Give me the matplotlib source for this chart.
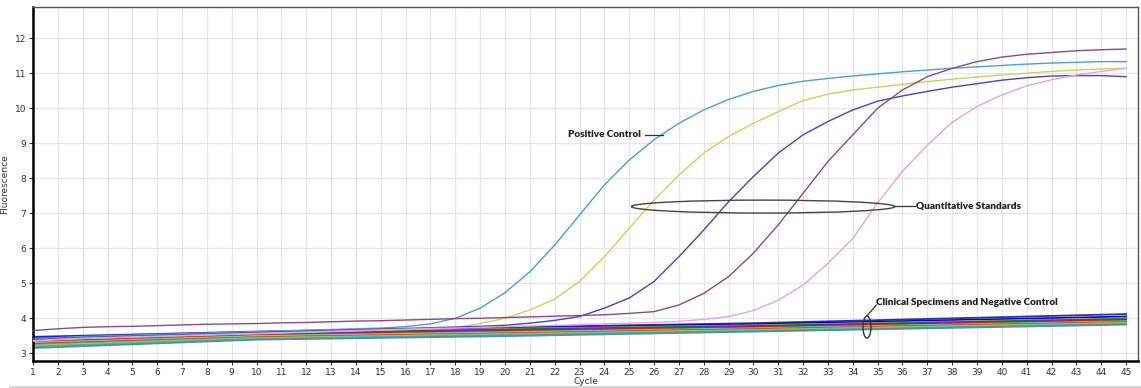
import numpy as np
import matplotlib
matplotlib.use('Agg')
import matplotlib.pyplot as plt
from matplotlib.patches import Ellipse
from matplotlib.lines import Line2D


# amplification curves (fluorescence per cycle)
cycles = np.arange(1, 46)

positive_control = [3.40, 3.45, 3.48, 3.50, 3.52, 3.54, 3.56, 3.58, 3.60, 3.62,
                    3.64, 3.66, 3.68, 3.70, 3.72, 3.76, 3.84, 4.00, 4.29, 4.73,
                    5.33, 6.09, 6.95, 7.81, 8.52, 9.10, 9.57, 9.95, 10.25, 10.48,
                    10.65, 10.77, 10.85, 10.92, 10.98, 11.04, 11.09, 11.14, 11.18, 11.22,
                    11.26, 11.29, 11.31, 11.33, 11.33]

standard_1 = [3.35, 3.39, 3.42, 3.44, 3.46, 3.48, 3.50, 3.52, 3.54, 3.56,
              3.58, 3.60, 3.62, 3.64, 3.66, 3.68, 3.70, 3.73, 3.85, 4.00,
              4.24, 4.55, 5.05, 5.76, 6.57, 7.38, 8.09, 8.72, 9.19, 9.57,
              9.90, 10.22, 10.40, 10.52, 10.60, 10.68, 10.76, 10.83, 10.89, 10.95,
              11.00, 11.05, 11.09, 11.12, 11.14]

standard_2 = [3.38, 3.42, 3.45, 3.47, 3.49, 3.51, 3.53, 3.55, 3.57, 3.59,
              3.61, 3.63, 3.65, 3.67, 3.69, 3.71, 3.73, 3.75, 3.77, 3.80,
              3.86, 3.94, 4.05, 4.29, 4.58, 5.05, 5.76, 6.52, 7.33, 8.05,
              8.72, 9.24, 9.62, 9.95, 10.20, 10.35, 10.48, 10.60, 10.70, 10.80,
              10.87, 10.92, 10.93, 10.93, 10.90]

standard_3 = [3.65, 3.70, 3.74, 3.76, 3.77, 3.79, 3.81, 3.83, 3.84, 3.85,
              3.87, 3.88, 3.90, 3.92, 3.93, 3.95, 3.97, 3.99, 4.00, 4.02,
              4.04, 4.06, 4.08, 4.10, 4.14, 4.19, 4.38, 4.71, 5.19, 5.86,
              6.67, 7.57, 8.48, 9.24, 10.00, 10.52, 10.90, 11.14, 11.33, 11.46,
              11.54, 11.59, 11.64, 11.67, 11.69]

standard_4 = [3.36, 3.40, 3.43, 3.45, 3.47, 3.49, 3.51, 3.53, 3.55, 3.57,
              3.59, 3.61, 3.63, 3.65, 3.67, 3.69, 3.71, 3.72, 3.74, 3.76,
              3.78, 3.80, 3.82, 3.84, 3.86, 3.88, 3.91, 3.97, 4.05, 4.22,
              4.52, 4.95, 5.57, 6.28, 7.30, 8.20, 8.95, 9.60, 10.05, 10.38,
              10.64, 10.81, 10.95, 11.05, 11.14]

amp_curves = [positive_control, standard_1, standard_2, standard_3, standard_4]
amp_colors = ['#4C9FD6', '#D2D05A', '#4444C4', '#8A4A8E', '#E8A2E8']

# clinical specimens + negative control, values at a few cycles
base_cycles = [1, 10, 20, 30, 45]
baselines = [
    [3.47, 3.62, 3.74, 3.86, 4.12],
    [3.44, 3.60, 3.72, 3.83, 4.05],
    [3.42, 3.58, 3.70, 3.80, 4.00],
    [3.40, 3.56, 3.68, 3.78, 3.98],
    [3.38, 3.55, 3.66, 3.76, 3.96],
    [3.36, 3.53, 3.64, 3.75, 3.95],
    [3.33, 3.51, 3.62, 3.73, 3.93],
    [3.31, 3.50, 3.61, 3.72, 3.92],
    [3.29, 3.48, 3.59, 3.70, 3.90],
    [3.27, 3.46, 3.57, 3.69, 3.89],
    [3.25, 3.45, 3.56, 3.68, 3.88],
    [3.22, 3.43, 3.54, 3.66, 3.86],
    [3.19, 3.41, 3.52, 3.64, 3.84],
    [3.15, 3.39, 3.49, 3.62, 3.82],
]
base_colors = ['#3030A0', '#0000E0', '#A0A0A0', '#008000', '#C000C0', '#804040',
               '#E00000', '#40C090', '#C0C0C0', '#8B4513', '#E07020', '#90D090',
               '#40B0C0', '#5090A0']

x_ticks = list(range(1, 46))
y_ticks = list(range(3, 13))


def main():
    fig = plt.figure(figsize=(11.41, 3.88), dpi=100)
    ax = fig.add_axes([33 / 1141, 1 - 361 / 388, 1105 / 1141, 354 / 388])

    for vals, col in zip(baselines, base_colors):
        ax.plot(base_cycles, vals, color=col, lw=1.3, zorder=2)
    for vals, col in zip(amp_curves, amp_colors):
        ax.plot(cycles, vals, color=col, lw=1.0, zorder=3)

    ax.set_xlim(1, 45.48)
    ax.set_ylim(2.78, 12.89)
    ax.set_xticks(x_ticks)
    ax.set_yticks(y_ticks)
    ax.grid(True, color='#E6E6E6', lw=0.9)
    ax.set_axisbelow(True)
    ax.tick_params(labelsize=6.5, length=3, width=0.8, pad=2, colors='#333333')

    for side in ['left', 'bottom']:
        ax.spines[side].set_linewidth(1.8)
        ax.spines[side].set_color('black')
    for side in ['top', 'right']:
        ax.spines[side].set_linewidth(1.0)
        ax.spines[side].set_color('#555555')

    ax.set_xlabel('Cycle', fontsize=6.5, labelpad=0, color='#333333')
    ax.set_ylabel('Fluorescence', fontsize=6.5, labelpad=4, color='#333333')

    fnt = dict(family=['Lato', 'DejaVu Sans'], weight='heavy',
               fontsize=7.2, color='#222222')

    # positive control label
    ax.text(25.45, 9.24, 'Positive Control', ha='right', va='center', **fnt)
    ax.plot([25.65, 26.35], [9.24, 9.24], color='#333333', lw=0.9, zorder=4)

    # quantitative standards
    ax.add_patch(Ellipse((30.39, 7.19), 10.6, 0.37, fill=False,
                         ec='#444444', lw=1.0, zorder=4))
    ax.plot([35.7, 36.5], [7.2, 7.2], color='#333333', lw=0.9, zorder=4)
    ax.text(36.55, 7.2, 'Quantitative Standards', ha='left', va='center', **fnt)

    # clinical specimens
    ax.add_patch(Ellipse((34.57, 3.75), 0.32, 0.63, fill=False,
                         ec='#333333', lw=1.0, zorder=4))
    ax.plot([34.57, 34.95], [4.07, 4.38], color='#333333', lw=0.9, zorder=4)
    ax.text(34.95, 4.44, 'Clinical Specimens and Negative Control',
            ha='left', va='center', **fnt)

    fig.add_artist(Line2D([10 / 1141, 1], [1 - 386.5 / 388] * 2,
                          color='#D4D4D4', lw=2))

    fig.savefig('out.png', dpi=100)
    return


if __name__ == "__main__":
    main()
